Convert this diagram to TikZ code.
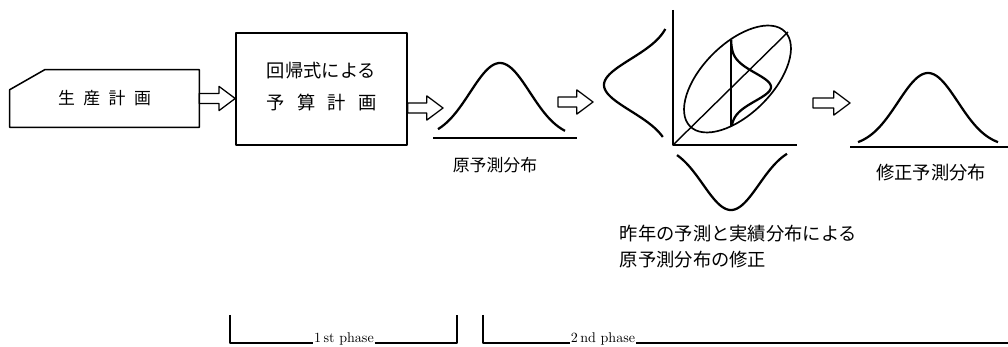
\documentclass[tikz,border=0pt]{standalone}
\usepackage{fontspec}
\newfontfamily\jpfont{Noto Sans CJK JP}
\usetikzlibrary{calc}

% outlined block arrow between two points (height taken from the first)
\newcommand\hollowarrow[2]{%
  \draw[arrowline] let \p1=(#1), \p2=(#2) in
    (\x1,\y1+3.6pt) -- (\x2-11.5pt,\y1+3.6pt) -- (\x2-11.5pt,\y1+8.6pt)
    -- (\x2,\y1) -- (\x2-11.5pt,\y1-8.6pt) -- (\x2-11.5pt,\y1-3.6pt)
    -- (\x1,\y1-3.6pt) -- cycle;}

\begin{document}
\begin{tikzpicture}[x=0.025cm,y=-0.025cm,line join=round,
  box/.style={line width=1.1pt},
  arrowline/.style={line width=0.9pt},
  curve/.style={line width=1.6pt},
  axis/.style={line width=1pt},
  jp/.style={font=\jpfont\fontsize{13pt}{16pt}\selectfont},
  jpsmall/.style={font=\jpfont\fontsize{12pt}{15pt}\selectfont}]
\useasboundingbox (0,0) rectangle (1008,347);

% input: production plan, a card with the upper-left corner cut off
\node[jpsmall,minimum width=4.725cm,minimum height=1.425cm,inner sep=0pt] (plan) at (104.5,98.5)
  {\makebox[66pt][s]{生\hfill 産\hfill 計\hfill 画}};
\draw[box] (plan.south west) -- ($(plan.north west)+(0,20)$) -- ($(plan.north west)+(35,0)$)
  -- (plan.north east) -- (plan.south east) -- cycle;

% 1st phase: budget from the regression equation
\node[jp,draw,box,minimum width=4.275cm,minimum height=2.8cm] (budget) at (321.5,89)
  {\raisebox{-3.5pt}{\begin{tabular}{@{}c@{}}回帰式による\\[7pt]\makebox[6em][s]{予\hfill 算\hfill 計\hfill 画}\end{tabular}}};
\hollowarrow{plan.east}{budget.west}

% original forecast distribution
\coordinate (f1w) at (443,108);
\coordinate (f1e) at (558,102);
\draw[axis] (433,138) -- (577,138);
\draw[curve] plot[domain=438:565,samples=60,smooth] ({\x},{138-75*exp(-0.5*((\x-500)/30)^2)});
\node[jpsmall] (f1label) at (495,165) {原予測分布};
\hollowarrow{$(budget.east)+(0,19)$}{f1w}

% 2nd phase: correction with last year's forecast vs. actual
\coordinate (corw) at (593,102);
\coordinate (O) at (673,145);
\hollowarrow{f1e}{corw}
\draw[axis] (673,10) -- (O) -- (797,145);
\draw[axis] (O) -- (788,32);
\draw[line width=1.2pt,rotate around={45:(737.5,79)}] (737.5,79) ellipse [x radius=1.675cm,y radius=0.875cm];
\draw[axis] (731,40) -- (731,126);
\draw[curve] plot[domain=40:126,samples=60,smooth] ({731+40*exp(-0.5*((\x-87)/14)^2)},{\x});
\draw[curve] plot[domain=29:137,samples=60,smooth] ({672-68*exp(-0.5*((\x-85)/26)^2)},{\x});
\draw[curve] plot[domain=677:787,samples=60,smooth] ({\x},{145+65*exp(-0.5*((\x-731)/28)^2)});
\node[jp,anchor=west,align=left] (corlabel) at (615,246.5)
  {昨年の予測と実績分布による\\[3pt]原予測分布の修正};

% corrected forecast distribution
\coordinate (cors) at (813,103);
\coordinate (f2w) at (850,103);
\hollowarrow{cors}{f2w}
\draw[axis] (850,147) -- (1008,147);
\draw[curve] plot[domain=858:998,samples=60,smooth] ({\x},{147-74*exp(-0.5*((\x-928)/30)^2)});
\node[jp] (f2label) at (931,173) {修正予測分布};

% phase brackets
\coordinate (p1l) at (230,315);
\coordinate (p1r) at (457,315);
\coordinate (p2l) at (483,315);
\coordinate (p2r) at (1008,343);
\node[fill=white,inner sep=0.5pt,anchor=base] (phase1) at (344,343) {1\,st phase};
\node[fill=white,inner sep=0.5pt,anchor=base] (phase2) at (603,343) {2\,nd phase};
\draw[axis] (p1l) |- (phase1.base west);
\draw[axis] (phase1.base east) -| (p1r);
\draw[axis] (p2l) |- (phase2.base west);
\draw[axis] (phase2.base east) -- (p2r);
\end{tikzpicture}
\end{document}
